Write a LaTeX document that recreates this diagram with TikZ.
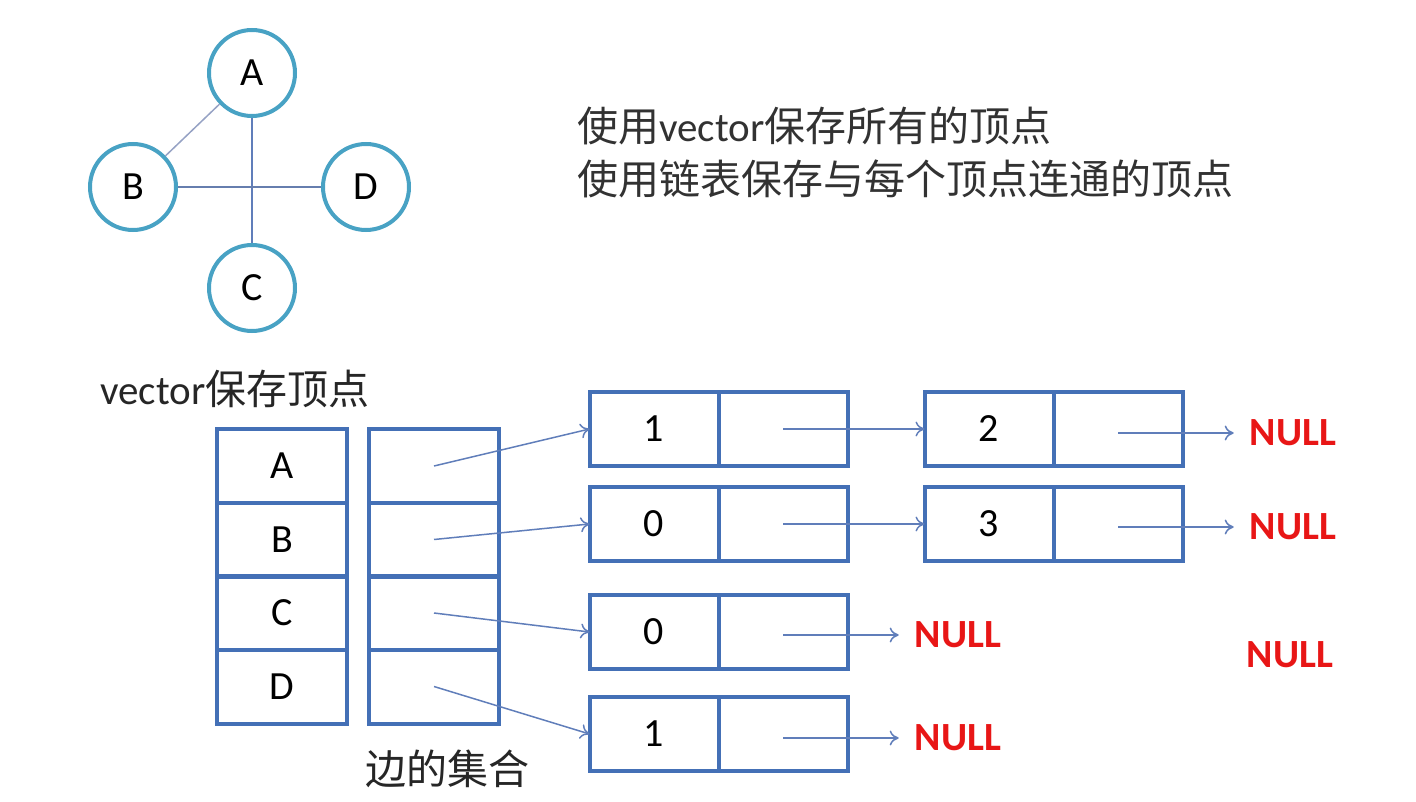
\documentclass[tikz,border=0pt]{standalone}
\usepackage{fontspec}
\setmainfont{Carlito}
\newfontfamily\cjk{Noto Sans CJK SC}
\usetikzlibrary{arrows.meta,positioning}
\definecolor{ringblue}{RGB}{72,162,196}
\definecolor{boxblue}{RGB}{68,112,182}
\definecolor{linkblue}{RGB}{96,126,186}
\definecolor{edgegray}{RGB}{150,162,196}
\definecolor{nullred}{RGB}{232,22,22}
\definecolor{textgray}{RGB}{50,50,50}
\begin{document}
\begin{tikzpicture}[x=1pt,y=-1pt,>={To[length=9pt,width=15pt]},
  vtx/.style={circle,draw=ringblue,line width=4pt,minimum size=86pt,inner sep=0pt,font=\fontsize{40}{40}\selectfont},
  cell/.style={draw=boxblue,line width=4pt,minimum width=130pt,minimum height=74pt,inner sep=0pt,outer sep=0pt,font=\fontsize{40}{40}\selectfont},
  link/.style={->,linkblue,line width=1.5pt},
  nil/.style={text=nullred,font=\fontsize{40}{40}\selectfont\bfseries,inner sep=2pt},
  say/.style={anchor=base west,inner sep=0pt,text=textgray,font=\fontsize{41}{41}\selectfont}]
\useasboundingbox (0,0) rectangle (1416,802);
% the graph
\node[vtx] (A) at (252,73) {A};
\node[vtx] (B) at (133,187) {B};
\node[vtx] (D) at (366,187) {D};
\node[vtx] (C) at (252,288) {C};
\draw[edgegray,line width=1.5pt] (A) -- (B);
\draw[linkblue,line width=1.5pt] (A) -- (C);
\draw[linkblue!80!gray,line width=1.5pt] (B) -- (D);
\node[say] (note1) at (577,142) {{\cjk 使用}vector{\cjk 保存所有的顶点}};
\node[say] (note2) at (577,195) {\cjk 使用链表保存与每个顶点连通的顶点};
% vertex vector and edge heads
\node[say,text=black!85] (vlabel) at (100,404) {vector{\cjk 保存顶点}};
\foreach \v [count=\i] in {A,B,C,D} {
  \pgfmathsetmacro{\y}{466+(\i-1)*73.5}
  \node[cell] (v\i) at (282,\y) {\v};
  \node[cell] (e\i) at (434,\y) {};
}
\node[say,text=black!85] (elabel) at (365,784) {\cjk 边的集合};
% adjacency lists
\foreach \nm/\val/\x/\y in {a1/1/654/429, a2/2/989/429, b1/0/654/524, b2/3/989/524, c1/0/654/632, d1/1/654/734} {
  \node[cell,minimum width=129pt] (\nm) at (\x,\y) {\val};
  \node[cell,minimum width=129pt,right=0pt of \nm] (\nm p) {};
}
\node[nil] (n1) at (1293,433) {NULL};
\node[nil] (n2) at (1293,527) {NULL};
\node[nil] (n3) at (958,635) {NULL};
\node[nil] (n4) at (958,738) {NULL};
\node[nil] (n5) at (1290,655) {NULL};
\draw[link] (e1.center) -- (a1.west);
\draw[link] (e2.center) -- (b1.west);
\draw[link] (e3.center) -- (c1.west);
\draw[link] (e4.center) -- (d1.west);
\draw[link] (a1p.center) -- (a2.west);
\draw[link] (b1p.center) -- (b2.west);
\foreach \p/\n in {a2p/n1, b2p/n2, c1p/n3, d1p/n4}
  \draw[link,shorten >=14pt] (\p.center |- \n.west) -- (\n.west);
\end{tikzpicture}
\end{document}
